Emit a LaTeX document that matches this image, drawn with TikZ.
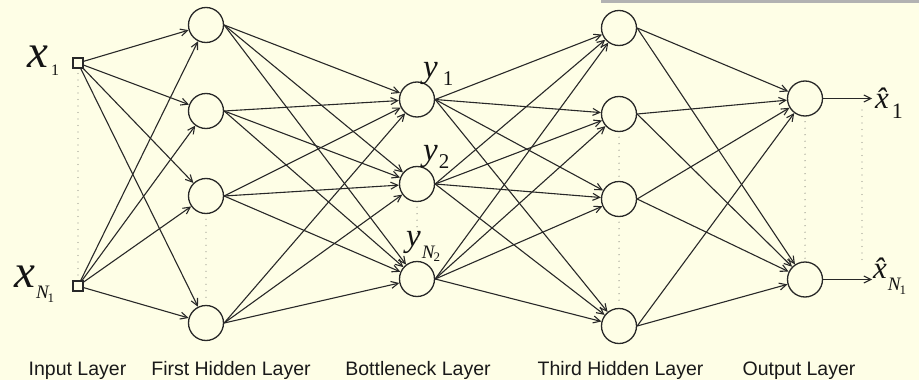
\documentclass[tikz,border=0pt]{standalone}
\usepackage{fontspec}
\newfontfamily\tnr{Liberation Serif}
\newfontfamily\arial{Liberation Sans}
\usetikzlibrary{arrows.meta}
\definecolor{bgc}{RGB}{254,254,230}
\definecolor{ink}{RGB}{40,40,40}
\definecolor{dotc}{RGB}{150,150,140}
\definecolor{barc}{RGB}{178,178,178}
\begin{document}
\begin{tikzpicture}[x=1pt,y=-1pt,
 neuron/.style={circle,draw=ink,line width=1.3pt,minimum size=35pt,inner sep=0pt},
 inbox/.style={rectangle,draw=ink,line width=1.1pt,minimum size=10pt,inner sep=0pt},
 conn/.style={draw=ink,line width=1.1pt,-{Straight Barb[length=7pt,width=7pt]}},
 dotsline/.style={draw=dotc,line width=1.3pt,line cap=round,dash pattern=on 0pt off 6.5pt},
 layerlabel/.style={font=\arial\fontsize{19.5}{20}\selectfont,anchor=base,inner sep=0pt,text=black!90},
 sym/.style={inner sep=0pt,anchor=base west,text=black!92}]
\fill[bgc] (0,0) rectangle (919,380);
\useasboundingbox (0,0) rectangle (919,380);
\fill[barc] (601,0) rectangle (919,2.5);
% input
\node[inbox] (in1) at (78,63) {};
\node[inbox] (inN) at (78,286) {};
% first hidden
\node[neuron] (h1) at (206,25) {};
\node[neuron] (h2) at (206,111) {};
\node[neuron] (h3) at (206,196) {};
\node[neuron] (h4) at (206,323) {};
% bottleneck
\node[neuron] (b1) at (417,99.5) {};
\node[neuron] (b2) at (417,184) {};
\node[neuron] (b3) at (417,279) {};
% third hidden
\node[neuron] (t1) at (619,28) {};
\node[neuron] (t2) at (619,114) {};
\node[neuron] (t3) at (619,199) {};
\node[neuron] (t4) at (619,326) {};
% output
\node[neuron] (o1) at (805,98.5) {};
\node[neuron] (o2) at (805,279.5) {};
% connections
\foreach \i in {1,N} \foreach \j in {1,...,4} \draw[conn] (in\i) -- (h\j);
\foreach \i in {1,...,4} \foreach \j in {1,2,3} \draw[conn] (h\i.east) -- (b\j);
\foreach \i in {1,2,3} \foreach \j in {1,...,4} \draw[conn] (b\i.east) -- (t\j);
\foreach \i in {1,...,4} \foreach \j in {1,2} \draw[conn] (t\i.east) -- (o\j);
\coordinate (e1) at (872,98.5);
\coordinate (e2) at (872,279.5);
\draw[conn] (o1.east) -- (e1);
\draw[conn] (o2.east) -- (e2);
% dotted lines
\draw[dotsline,shorten <=5pt,shorten >=4pt] (in1.south) -- (inN.north);
\draw[dotsline,shorten <=5pt,shorten >=3pt] (h3.south) -- (h4.north);
\draw[dotsline,shorten <=5pt,shorten >=16pt] (b2.south) -- (b3.north);
\draw[dotsline,shorten <=5pt,shorten >=3pt] (t2.south) -- (t3.north);
\draw[dotsline,shorten <=5pt,shorten >=3pt] (t3.south) -- (t4.north);
\draw[dotsline,shorten <=5pt,shorten >=3pt] (o1.south) -- (o2.north);
\coordinate (d1) at (862,110);
\coordinate (d2) at (862,263);
\draw[dotsline] (d1) -- (d2);
% symbols
\node[sym] (lx1) at (27,67) {\tnr\fontsize{47}{47}\selectfont\itshape x\upshape\fontsize{16}{16}\selectfont\kern3pt\raisebox{-8pt}{1}};
\node[sym] (lxN) at (14,287) {\tnr\fontsize{47}{47}\selectfont\itshape x\kern1pt\fontsize{19}{19}\selectfont\raisebox{-11pt}{N\kern-1pt\upshape\fontsize{13}{13}\selectfont\raisebox{-4pt}{1}}};
\node[sym] (ly1) at (423,77) {\tnr\fontsize{33}{33}\selectfont\itshape y\upshape\fontsize{21}{21}\selectfont\kern5pt\raisebox{-9pt}{1}};
\node[sym] (ly2) at (423,160) {\tnr\fontsize{33}{33}\selectfont\itshape y\upshape\fontsize{21}{21}\selectfont\kern1pt\raisebox{-8pt}{2}};
\node[sym] (lyN) at (406,246) {\tnr\fontsize{33}{33}\selectfont\itshape y\kern1pt\fontsize{19}{19}\selectfont\raisebox{-12pt}{N\kern-1pt\upshape\fontsize{13}{13}\selectfont\raisebox{-3pt}{2}}};
\node[sym] (lo1) at (875,108) {\tnr\fontsize{31}{31}\selectfont\itshape \^{x}\upshape\fontsize{22}{22}\selectfont\kern3pt\raisebox{-10pt}{1}};
\node[sym] (loN) at (873,278) {\tnr\fontsize{31}{31}\selectfont\itshape \^{x}\kern1pt\fontsize{19}{19}\selectfont\raisebox{-12pt}{N\kern-1pt\upshape\fontsize{13}{13}\selectfont\raisebox{-4pt}{1}}};
% layer labels
\node[layerlabel] (L1) at (77.5,375) {Input Layer};
\node[layerlabel] (L2) at (231,375) {First Hidden Layer};
\node[layerlabel] (L3) at (418,375) {Bottleneck Layer};
\node[layerlabel] (L4) at (620.5,375) {Third Hidden Layer};
\node[layerlabel] (L5) at (799,375) {Output Layer};
\end{tikzpicture}
\end{document}
